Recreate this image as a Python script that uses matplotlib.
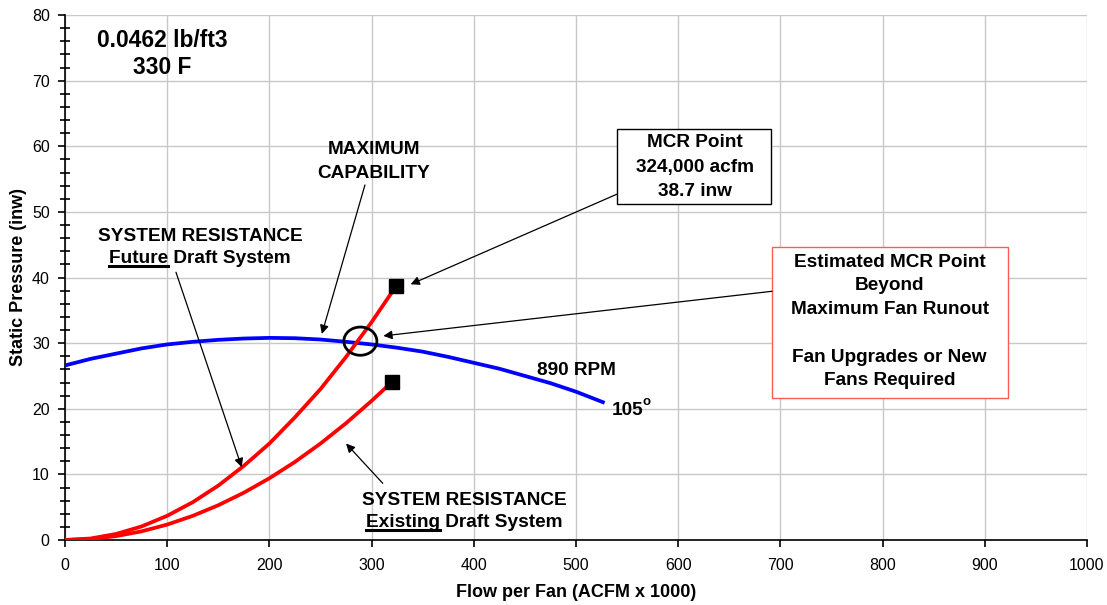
import matplotlib
matplotlib.use('Agg')
import matplotlib.pyplot as plt
from matplotlib.patches import Ellipse, Rectangle
from matplotlib.ticker import MultipleLocator

plt.rcParams['font.family'] = 'Liberation Sans'
plt.rcParams['axes.linewidth'] = 1.2

# fan curve, 890 rpm, 105 deg
fan_x = [0, 25, 50, 75, 100, 125, 150, 175, 200, 225, 250, 275, 300, 325, 350, 375, 400, 425, 450, 475, 500, 528]
fan_y = [26.6, 27.6, 28.4, 29.2, 29.8, 30.2, 30.5, 30.7, 30.8, 30.75, 30.55, 30.2, 29.8, 29.3, 28.7, 27.9, 27.0, 26.1, 25.0, 23.9, 22.6, 20.9]

# system resistance curves
fut_x = [0, 25, 50, 75, 100, 125, 150, 175, 200, 225, 250, 275, 300, 324]
fut_y = [0, 0.23, 0.92, 2.07, 3.69, 5.76, 8.29, 11.3, 14.7, 18.7, 23.0, 27.9, 33.2, 38.7]
ext_x = [0, 25, 50, 75, 100, 125, 150, 175, 200, 225, 250, 275, 300, 320]
ext_y = [0, 0.15, 0.59, 1.32, 2.35, 3.68, 5.30, 7.21, 9.41, 11.9, 14.7, 17.8, 21.2, 24.1]

# end points (squares)
mcr_x = [324, 320]
mcr_y = [38.7, 24.1]

# operating point circled
op_x, op_y = 289, 30.3

fs = 13.7

fig = plt.figure(figsize=(11.07, 6.05), dpi=100)
ax = fig.add_axes([65/1107, 65/605, 1022/1107, 525/605])

ax.set_xlim(0, 1000)
ax.set_ylim(0, 80)
ax.xaxis.set_major_locator(MultipleLocator(100))
ax.yaxis.set_major_locator(MultipleLocator(10))
ax.yaxis.set_minor_locator(MultipleLocator(2))
ax.grid(True, which='major', color='#c8c8c8', lw=1)
ax.set_axisbelow(True)
ax.spines['top'].set_visible(False)
ax.spines['right'].set_visible(False)
ax.tick_params(axis='both', which='major', length=5, width=1.2, labelsize=11.5, pad=6)
ax.tick_params(axis='y', which='minor', direction='inout', length=7, width=1.2)
ax.tick_params(axis='x', which='major', pad=8)
ax.set_xlabel('Flow per Fan (ACFM x 1000)', fontsize=13, fontweight='bold', labelpad=8)
ax.set_ylabel('Static Pressure (inw)', fontsize=13, fontweight='bold', labelpad=3.5)

ax.plot(fan_x, fan_y, color='#0000ff', lw=2.7, solid_capstyle='butt', zorder=3)
ax.plot(fut_x, fut_y, color='#ff0000', lw=2.7, zorder=3)
ax.plot(ext_x, ext_y, color='#ff0000', lw=2.7, zorder=3)
ax.plot(mcr_x, mcr_y, 's', color='k', ms=9.5, zorder=4)
ax.add_patch(Ellipse((op_x, op_y), 32.3, 4.3, fill=False, ec='k', lw=2, zorder=5))


def put(x, y, s, size=fs, **kw):
    return ax.text(x, y, s, fontsize=size, fontweight='bold', ha='center', va='baseline', zorder=6, **kw)


def put_under(x, y, s, prefix, size=fs):
    # centered line with the first word underlined
    t = put(x, y, s, size)
    r = fig.canvas.get_renderer()
    bb = t.get_window_extent(r)
    tmp = ax.text(0, 0, prefix, fontsize=size, fontweight='bold')
    w = tmp.get_window_extent(r).width
    tmp.remove()
    x0, yb = ax.transData.inverted().transform((bb.x0, 0))[0], y - 3 / 6.5625
    x1 = ax.transData.inverted().transform((bb.x0 + w, 0))[0]
    ax.plot([x0, x1], [yb, yb], color='k', lw=2.2, clip_on=False, zorder=6)


def arrow(tail, head):
    ax.annotate('', xy=head, xytext=tail,
                arrowprops=dict(arrowstyle='-|>', color='k', lw=0.9, mutation_scale=13,
                                shrinkA=0, shrinkB=0), zorder=6)


# density / temperature
put(94.9, 75.17, '0.0462 lb/ft3', size=16.4)
put(94.9, 71.0, '330 F', size=16.4)

# max capability
put(302.3, 58.8, 'MAXIMUM')
put(302.3, 55.16, 'CAPABILITY')
arrow((293.5, 54.1), (251.3, 31.4))

# future system
put(132.1, 45.56, 'SYSTEM RESISTANCE')
put_under(132.1, 42.2, 'Future Draft System', 'Future')
arrow((108.6, 40.8), (172.9, 11.1))

# existing system
put(390.9, 5.33, 'SYSTEM RESISTANCE')
put_under(391.1, 1.98, 'Existing Draft System', 'Existing')
arrow((310.9, 8.64), (275.0, 14.7))

# fan label
put(500.3, 25.1, '890 RPM')
ax.text(534.9, 19.05, '105', fontsize=fs, fontweight='bold', ha='left', va='baseline', zorder=6)
ax.text(565.0, 20.6, 'o', fontsize=9.5, fontweight='bold', ha='left', va='baseline', zorder=6)

# MCR box
ax.add_patch(Rectangle((540.1, 51.2), 150.7, 11.4, fc='white', ec='k', lw=1, zorder=5))
put(616.0, 59.9, 'MCR Point')
put(616.0, 56.1, '324,000 acfm')
put(616.0, 52.4, '38.7 inw')
arrow((540.1, 52.7), (338.2, 38.96))

# estimated MCR box
ax.add_patch(Rectangle((691.8, 21.6), 230.9, 23.05, fc='white', ec='#ff5a5a', lw=1, zorder=5))
put(806.9, 41.6, 'Estimated MCR Point')
put(806.9, 38.1, 'Beyond')
put(806.9, 34.4, 'Maximum Fan Runout')
put(806.9, 27.1, 'Fan Upgrades or New')
put(806.9, 23.6, 'Fans Required')
arrow((691.8, 37.9), (311.5, 31.1))

fig.savefig('out.png', dpi=100)
